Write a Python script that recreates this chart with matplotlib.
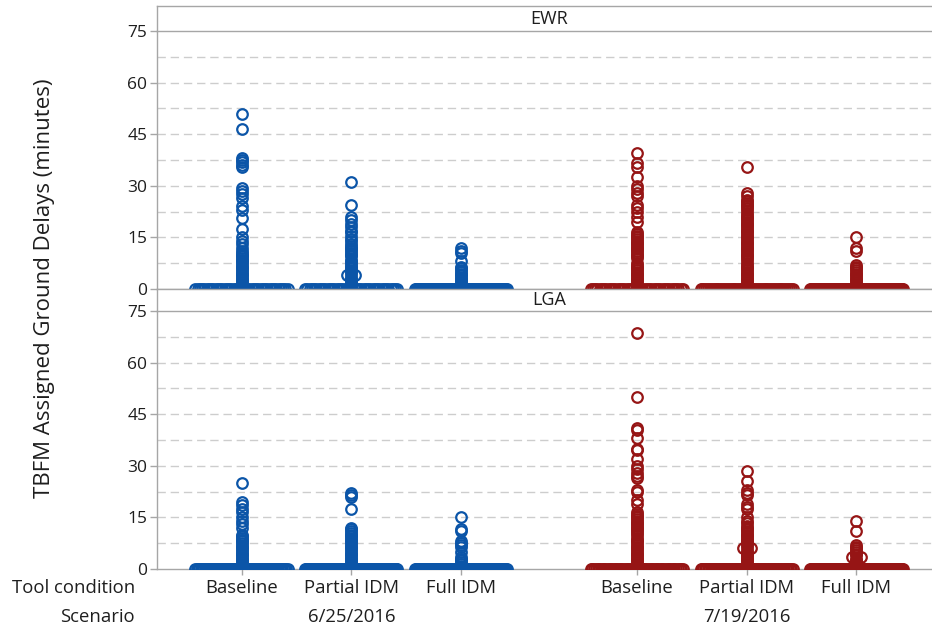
import numpy as np
import matplotlib.pyplot as plt

plt.rcParams['font.family'] = ['Open Sans', 'DejaVu Sans']

# Kategorie
tool_condition = ['Baseline', 'Partial IDM', 'Full IDM', 'Baseline', 'Partial IDM', 'Full IDM']
scenario = ['6/25/2016', '7/19/2016']
airports = ['EWR', 'LGA']
y_ticks = [0, 15, 30, 45, 60, 75]

# Liczba opóźnień równych 0 w każdej grupie
ewr_zeros = [42, 42, 95, 42, 50, 95]
lga_zeros = [70, 95, 95, 55, 65, 95]

# Niezerowe opóźnienia (minuty)
ewr_625_base = [51, 46.5, 38, 37.5, 37, 36, 35.5, 29.5, 28.5, 27.5, 26.5, 24, 23, 20.5, 17.5,
                15, 14, 13, 12, 11, 10.5, 10, 9.5, 9, 8.5, 8, 7.5, 7, 6.5, 6, 5.5, 5, 4.5, 4,
                3.5, 3, 2.5, 2, 1.5, 1, 0.5]
ewr_625_part = [31, 24.5, 21, 20, 19, 18, 17, 16.5, 15.5, 14.5, 14, 13, 12.5, 12, 11.5, 11,
                10.5, 10, 9.5, 8.5, 8, 7.5, 7, 6.5, 6, 5.5, 5, 4.5, 4, 4, 3.5, 3, 2.5, 2, 1.5,
                1, 0.5]
ewr_625_full = [12, 11, 10.5, 8, 6.5, 6, 5.5, 5, 4.5, 4, 3.5, 3, 2.5, 2, 1.5, 1, 0.5]
ewr_719_base = [39.5, 36.5, 35.5, 32.5, 30, 29, 28, 27, 24.5, 23.5, 22.5, 21, 19.5, 16.5, 16,
                15.5, 15, 14.5, 14, 13.5, 13, 12.5, 12, 11.5, 11, 10.5, 10, 9.5, 9, 7.5, 7,
                6.5, 6, 5.5, 5, 4.5, 4, 3.5, 3, 2.5, 2, 1.5, 1, 0.5]
ewr_719_part = [35.5, 28, 27, 26, 25.5, 25, 24.5, 24, 23.5, 23, 22, 21.5, 21, 20.5, 20, 19.5,
                19, 18.5, 18, 17.5, 17, 16.5, 16, 15.5, 15, 14.5, 14, 13.5, 13, 12.5, 12,
                11.5, 11, 10.5, 10, 9.5, 9, 8.5, 7.5, 7, 6.5, 6, 5.5, 5, 4.5, 4, 3.5, 3, 2.5,
                2, 1.5, 1, 0.5]
ewr_719_full = [15, 12, 11, 7, 6.5, 6, 5.5, 5, 4.5, 4, 3.5, 3, 2.5, 2, 1.5, 1, 0.5]

lga_625_base = [25, 19.5, 18.5, 17.5, 16.5, 15, 14, 13, 12, 10, 9.5, 9, 8.5, 8, 7.5, 7, 6.5,
                6, 5.5, 5, 4.5, 4, 3.5, 3, 2.5, 2, 1.5, 1, 0.5]
lga_625_part = [22, 21.5, 21, 17.5, 12, 11.5, 11, 10.5, 10, 9.5, 9, 8.5, 8, 7.5, 7, 6.5, 6,
                5.5, 5, 4.5, 4, 3.5, 3, 2.5, 2, 1.5, 1, 0.5]
lga_625_full = [15, 11.5, 11, 8, 7.5, 7, 6.5, 5, 3.5, 3, 2.5, 2, 1.5, 1, 0.5]
lga_719_base = [68.5, 50, 41, 40.5, 38, 35, 34.5, 32, 30, 29, 28, 27, 26.5, 23, 22.5, 20, 19,
                16.5, 16, 15.5, 15, 14.5, 14, 13.5, 13, 12.5, 12, 11.5, 11, 10.5, 10, 9, 8.5,
                8, 7.5, 7, 6.5, 6, 5.5, 5, 4.5, 4, 3.5, 3, 2.5, 2, 1.5, 1, 0.5]
lga_719_part = [28.5, 25.5, 23, 22, 21.5, 19, 18, 17.5, 15, 14, 13.5, 12.5, 12, 11.5, 11,
                10.5, 10, 9.5, 9, 8.5, 8, 7.5, 7, 6.5, 6, 6, 5.5, 5, 4.5, 4, 3.5, 3, 2.5, 2,
                1.5, 1, 0.5]
lga_719_full = [14, 11, 7, 6.5, 6, 5.5, 5, 4.5, 4, 3.5, 3.5, 3, 2.5, 2, 1.5, 1, 0.5]

ewr_values = [ewr_625_base, ewr_625_part, ewr_625_full, ewr_719_base, ewr_719_part, ewr_719_full]
lga_values = [lga_625_base, lga_625_part, lga_625_full, lga_719_base, lga_719_part, lga_719_full]

colors = ['#0b55a8'] * 3 + ['#961515'] * 3
grid_color = '#cdcdcd'
frame_color = '#a6a6a6'
text_color = '#1e1e1e'

# pozycje grup: przerwa między scenariuszami
x_pos = [i + (0.6 if i >= 3 else 0) for i in range(len(tool_condition))]


def rozloz(values, n_zero, x0):
    # zera na całą szerokość, powtórzenia obok siebie
    xs = list(x0 + np.linspace(-0.42, 0.42, n_zero))
    ys = [0.0] * n_zero
    vals, counts = np.unique(values, return_counts=True)
    for v, c in zip(vals, counts):
        off = (np.arange(c) - (c - 1) / 2) * 0.075
        xs += list(x0 + off)
        ys += [v] * c
    return xs, ys


fig = plt.figure(figsize=(9.32, 6.27), dpi=100)
W, H = 932.0, 627.0
left = 157 / W
width = (941 - 157) / W

panels = [
    (airports[0], ewr_values, ewr_zeros, 31, 289, 6),
    (airports[1], lga_values, lga_zeros, 311, 569, 288.5),
]

axes = []
for name, values, zeros, top_px, bot_px, strip_px in panels:
    ax = fig.add_axes([left, 1 - bot_px / H, width, (bot_px - top_px) / H])
    axes.append(ax)
    # pasek z nazwą lotniska
    sx = fig.add_axes([left, 1 - top_px / H, width, (top_px - strip_px) / H])
    sx.set_xticks([])
    sx.set_yticks([])
    for s in sx.spines.values():
        s.set_color(frame_color)
        s.set_linewidth(1.0)
    sx.spines['right'].set_visible(False)
    sx.text(0.5, 0.48, name, ha='center', va='center', fontsize=13, color=text_color,
            transform=sx.transAxes)

    for lvl in np.arange(7.5, 75, 7.5):
        ax.axhline(lvl, color=grid_color, lw=1.0, ls=(0, (6, 3.5)), zorder=0)

    for i in range(len(tool_condition)):
        xs, ys = rozloz(values[i], zeros[i], x_pos[i])
        ax.plot(xs, ys, 'o', mfc='none', mec=colors[i], ms=7.6, mew=1.6, zorder=3)

    ax.set_xlim(-0.77, x_pos[-1] + 0.77)
    ax.set_ylim(0, 75)
    ax.set_yticks(y_ticks)
    ax.tick_params(axis='y', direction='out', length=5, width=1.0, color=frame_color,
                   labelsize=12.5, labelcolor=text_color, pad=2)
    ax.spines['right'].set_visible(False)
    ax.spines['top'].set_visible(False)
    for s in ['left', 'bottom']:
        ax.spines[s].set_color(frame_color)
        ax.spines[s].set_linewidth(1.0)

axes[0].set_xticks([])
axes[1].set_xticks(x_pos)
axes[1].set_xticklabels([])
axes[1].tick_params(axis='x', direction='out', length=4, width=1.0, color=frame_color)

# etykiety kategorii pod wykresem
ax = axes[1]
y1 = 1 - 588 / H
y2 = 1 - 617 / H
fig.text(135 / W, y1, 'Tool condition', ha='right', va='center', fontsize=13.3, color=text_color)
fig.text(135 / W, y2, 'Scenario', ha='right', va='center', fontsize=13.3, color=text_color)
for i, lab in enumerate(tool_condition):
    xf = fig.transFigure.inverted().transform(ax.transData.transform((x_pos[i], 0)))[0]
    fig.text(xf, y1, lab, ha='center', va='center', fontsize=13.3, color=text_color)
for j, lab in enumerate(scenario):
    xf = fig.transFigure.inverted().transform(ax.transData.transform((x_pos[3 * j + 1], 0)))[0]
    fig.text(xf, y2, lab, ha='center', va='center', fontsize=13.3, color=text_color)

fig.text(45 / W, 1 - 288 / H, 'TBFM Assigned Ground Delays (minutes)', rotation=90,
         ha='center', va='center', fontsize=16, color=text_color)

fig.savefig('out.png', dpi=100)
